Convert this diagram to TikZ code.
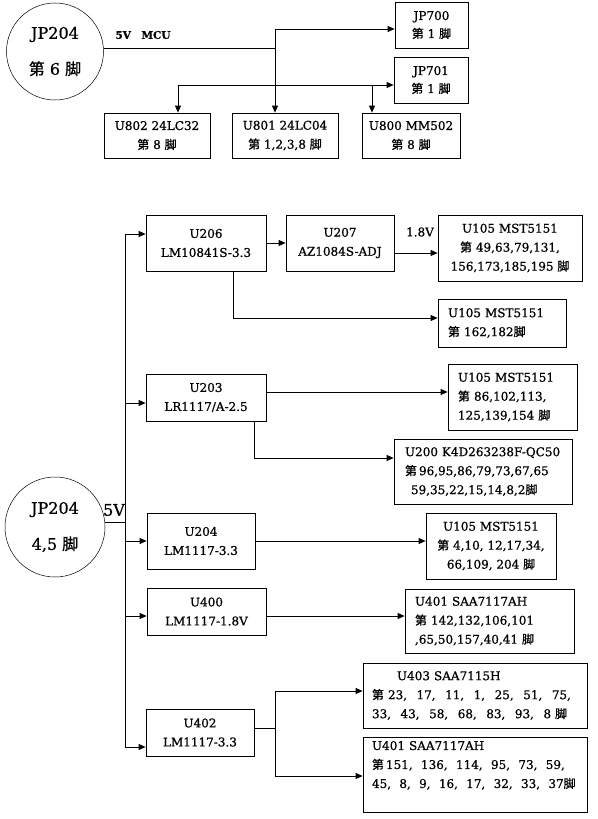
\documentclass[tikz,border=0pt]{standalone}
\usepackage{fontspec}
\setmainfont{DejaVu Serif}[FakeBold=0.8]
\newfontfamily\cjk{Noto Sans CJK SC}[FakeBold=1]
\usetikzlibrary{arrows.meta}
\newcommand\cs{,\hspace{9.5pt}}
\newcommand\cst{,\hspace{8.3pt}}
\newcommand\Di{{\cjk 第}}
\newcommand\Jiao{{\cjk 脚}}
\begin{document}
\begin{tikzpicture}[x=1pt,y=-1pt,
  font=\fontsize{12}{19}\selectfont,
  line width=0.8pt,
  box/.style 2 args={draw, line width=0.8pt, minimum width=#1pt, minimum height=#2pt, inner sep=0pt, align=center},
  lbox/.style 2 args={draw, line width=0.8pt, minimum width=#1pt, minimum height=#2pt, inner xsep=10pt, inner ysep=0pt, text width=#1pt-20pt, align=left},
  circ/.style={draw, circle, line width=0.5pt, minimum size=#1pt, inner sep=0pt, align=center, font=\fontsize{16}{36}\selectfont},
  arr/.style={-{Triangle[length=7pt,width=6pt]}}]
\useasboundingbox (0,0) rectangle (597,819);
\fill[white] (0,0) rectangle (597,819);

% ---------- top part ----------
\node[circ=97] (c1) at (55,51.5) {JP204\\\Di\ 6 \Jiao};
\node[font=\bfseries\fontsize{10.5}{12}\selectfont] (l5v) at (143,35) {5V\quad MCU};
\node[box={73}{46}] (jp700) at (431.5,25) {JP700\\[-1pt]\Di\ 1 \Jiao};
\node[box={74}{46}] (jp701) at (431,80) {JP701\\[-1pt]\Di\ 1 \Jiao};
\node[box={106}{45}] (u802) at (157,135.5) {U802 24LC32\\\Di\ 8 \Jiao};
\node[box={106}{45}] (u801) at (285,135.5) {U801 24LC04\\\Di\ 1,2,3,8 \Jiao};
\node[box={98}{45}] (u800) at (411,135.5) {U800 MM502\\\Di\ 8 \Jiao};

\coordinate (t1) at (275,29);
\coordinate (t2) at (178,85);
\coordinate (t3) at (372,85);
\draw (c1.4) -- (c1.4 -| t1);
\draw[arr] (t1) -- (t1 -| jp700.west);
\draw[arr] (t1) -- (t1 |- u801.north);
\draw[arr] (t2) -- (t2 -| jp701.west);
\draw[arr] (t2) -- (t2 |- u802.north);
\draw[arr] (t3) -- (t3 |- u800.north);

% ---------- bottom part ----------
\node[circ=100] (c2) at (55,527) {JP204\\4,5 \Jiao};
\node[font=\fontsize{16}{18}\selectfont] (l5vb) at (114,510) {5V};

\node[box={120}{56}] (u206) at (206,243) {U206\\LM10841S-3.3};
\node[box={108}{56}] (u207) at (340,243) {U207\\AZ1084S-ADJ};
\node (l18) at (420,232) {1.8V};
\node[box={144}{66}] (u105a) at (510,248) {U105 MST5151\\\Di\ 49,63,79,131,\\156,173,185,195 \Jiao};
\node[lbox={128}{48}] (u105b) at (502,323) {U105 MST5151\\\Di\ 162,182\Jiao};

\node[box={120}{47}] (u203) at (206,397.5) {U203\\LR1117/A-2.5};
\node[lbox={129}{66}] (u105c) at (512.5,397) {U105 MST5151\\\Di\ 86,102,113,\\125,139,154 \Jiao};
\node[lbox={178}{65}, inner xsep=11pt, text width=156pt] (u200) at (483,471.5) {U200 K4D263238F-QC50\\\Di\,96,95,86,79,73,67,65\\\hspace*{6pt}59,35,22,15,14,8,2\Jiao};

\node[box={108}{56}] (u204) at (201,541) {U204\\LM1117-3.3};
\node[box={130}{66}] (u105d) at (491,546) {U105 MST5151\\\Di\ 4,10, 12,17,34,\\66,109, 204 \Jiao};

\node[box={119}{47}] (u400) at (206.5,611.5) {U400\\LM1117-1.8V};
\node[lbox={169}{64}] (u401a) at (489.5,621) {U401 SAA7117AH\\\Di\ 142,132,106,101\\,65,50,157,40,41 \Jiao};

\node[box={108}{47}] (u402) at (200,732.5) {U402\\LM1117-3.3};
\node[lbox={224}{65}, inner xsep=9pt, text width=206pt] (u403) at (475,695.5) {\hspace*{25pt}U403 SAA7115H\\\Di\ 23\cs 17\cs 11\cs 1\cs 25\cs 51\cs 75,\\33\cs 43\cs 58\cs 68\cs 83\cs 93\cs 8 \Jiao};
\node[lbox={224}{75}, inner xsep=9pt, text width=206pt] (u401b) at (475,774.5) {U401 SAA7117AH\\\Di\,151\cst 136\cst 114\cst 95\cst 73\cst 59,\\45\cst 8\cst 9\cst 16\cst 17\cst 32\cst 33\cst 37\Jiao\\[1pt]\mbox{}};

% bus
\coordinate (btop) at (125,234);
\coordinate (b203) at (125,403);
\coordinate (b204) at (125,541);
\coordinate (b400) at (125,616);
\coordinate (bbot) at (125,747);
\draw (btop) -- (bbot);
\draw (c2.5) -- (c2.5 -| btop);
\draw[arr] (btop) -- (btop -| u206.west);
\draw[arr] (b203) -- (b203 -| u203.west);
\draw[arr] (b204) -- (b204 -| u204.west);
\draw[arr] (b400) -- (b400 -| u400.west);
\draw[arr] (bbot) -- (bbot -| u402.west);

% U206 / U207 branch
\coordinate (d1) at (233,318);
\coordinate (d4) at (0,253);
\draw[arr] (u206.east) -- (u207.west);
\draw[arr] (u207.east |- d4) -- (u105a.west |- d4);
\draw[arr] (u206.south -| d1) -- (d1) -- (d1 -| u105b.west);

% U203 branch
\coordinate (d2) at (254,458);
\coordinate (d3) at (0,392);
\draw[arr] (u203.east |- d3) -- (u105c.west |- d3);
\draw[arr] (u203.south -| d2) -- (d2) -- (d2 -| u200.west);

% U204, U400
\draw[arr] (u204.east) -- (u204.east -| u105d.west);
\draw[arr] (u400.east |- b400) -- (u401a.west |- b400);

% U402 branch
\coordinate (s) at (275,728);
\coordinate (s1) at (275,691);
\coordinate (s2) at (275,776);
\draw (u402.east |- s) -- (s);
\draw[arr] (s) -- (s1) -- (s1 -| u403.west);
\draw[arr] (s) -- (s2) -- (s2 -| u401b.west);
\end{tikzpicture}
\end{document}
